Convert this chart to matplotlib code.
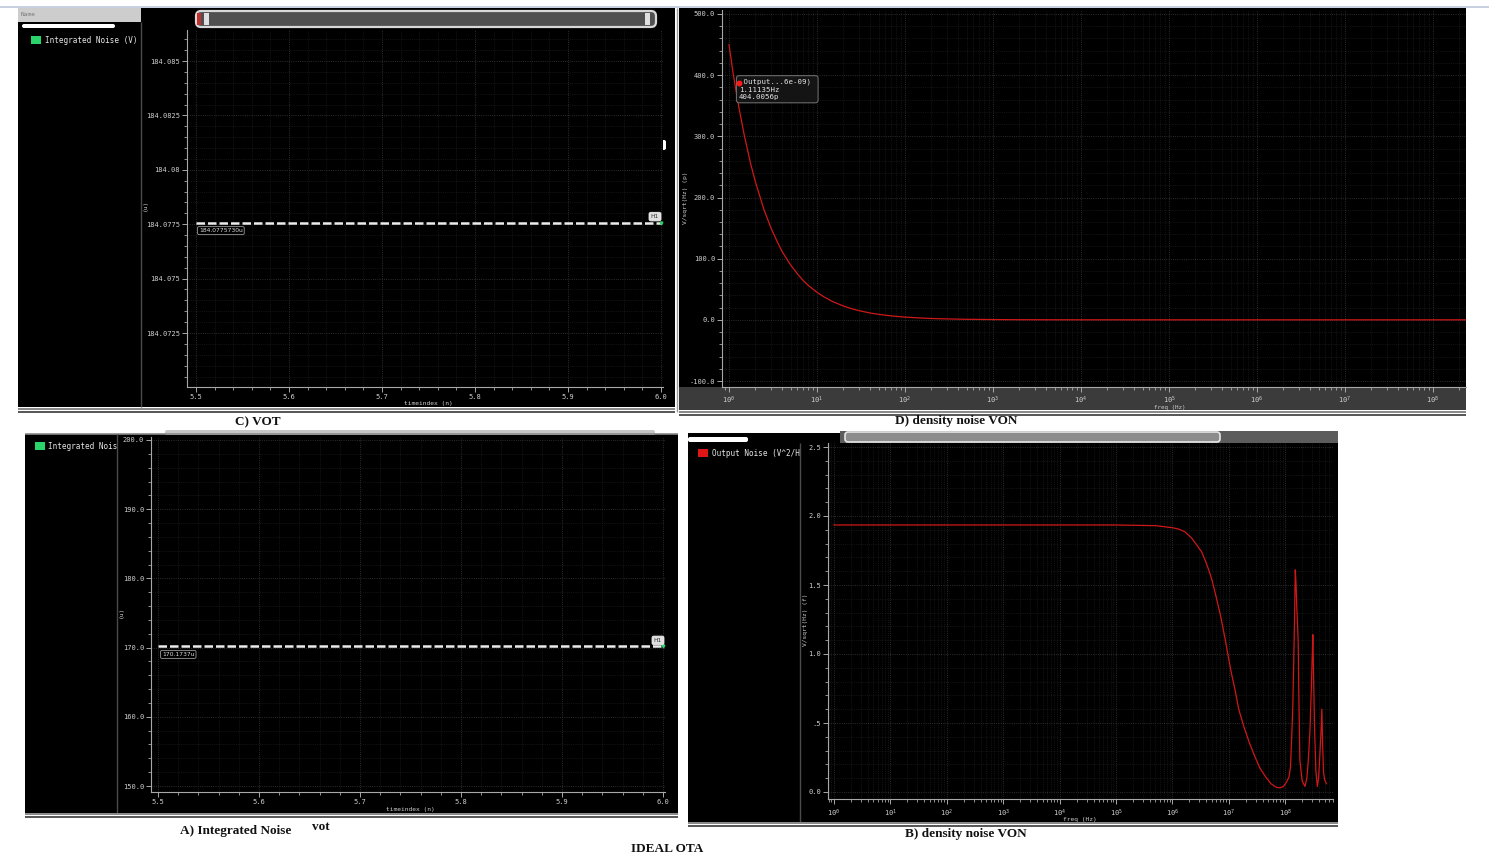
import numpy as np
import matplotlib
matplotlib.use('Agg')
import matplotlib.pyplot as plt
from matplotlib.patches import Rectangle, FancyBboxPatch
from matplotlib.ticker import AutoMinorLocator, LogLocator, NullFormatter
from matplotlib.transforms import offset_copy

# ---- data ----
# C) VOT : integrated noise marker (u) vs timeindex (n)
vot_time_ns = [5.5, 5.6, 5.7, 5.8, 5.9, 6.0]
vot_u = [184.077573, 184.077573, 184.077573, 184.077573, 184.077573, 184.077573]
vot_yticks = [184.0725, 184.075, 184.0775, 184.08, 184.0825, 184.085]

# A) Integrated Noise (u) vs timeindex (n)
intn_time_ns = [5.5, 5.6, 5.7, 5.8, 5.9, 6.0]
intn_u = [170.1737, 170.1737, 170.1737, 170.1737, 170.1737, 170.1737]
intn_yticks = [150, 160, 170, 180, 190, 200]

time_ticks = [5.5, 5.6, 5.7, 5.8, 5.9, 6.0]

# D) density noise VON, V/sqrt(Hz) (p)
d_freq = [1.0, 1.11135, 1.2, 1.3, 1.5, 1.75, 2.0, 2.5, 3.0, 3.5, 4.0, 5.0, 6.0, 7.0, 8.0,
          10, 12, 15, 20, 25, 30, 40, 50, 70, 100, 150, 200, 300, 500, 1e3, 2e3, 5e3,
          1e4, 1e5, 1e6, 1e7, 1e8, 2.37e8]
d_val = [450, 404.0056, 375, 346, 300, 257, 225, 180, 150, 129, 112, 90, 75, 64, 56,
         45, 37.5, 30, 22.5, 18, 15, 11.2, 9, 6.4, 4.5, 3.0, 2.2, 1.5, 0.9, 0.45, 0.2, 0.1,
         0.05, 0, 0, 0, 0, 0]
d_yticks = [-100, 0, 100, 200, 300, 400, 500]

# B) density noise VON, V/sqrt(Hz) (f)
b_freq = [1, 10, 100, 1e3, 1e4, 1e5, 5.1e5, 1.0e6, 1.3e6, 1.66e6, 2.2e6, 2.7e6, 3.3e6,
          3.8e6, 4.4e6, 5.0e6, 6.0e6, 7.2e6, 8.5e6, 9.8e6, 1.1e7, 1.29e7, 1.5e7, 1.86e7,
          2.3e7, 2.9e7, 3.6e7, 4.5e7, 5.6e7, 6.9e7, 8.0e7, 9.3e7, 1.05e8, 1.17e8, 1.24e8,
          1.29e8, 1.36e8, 1.41e8, 1.47e8, 1.51e8, 1.56e8, 1.6e8, 1.66e8, 1.70e8, 1.76e8,
          1.82e8, 2.0e8, 2.24e8, 2.42e8, 2.57e8, 2.75e8, 2.88e8, 3.0e8, 3.09e8, 3.2e8,
          3.31e8, 3.5e8, 3.72e8, 3.9e8, 4.07e8, 4.3e8, 4.47e8, 4.6e8, 4.79e8, 5.0e8, 5.37e8]
b_val = [1.935, 1.935, 1.935, 1.935, 1.935, 1.935, 1.93, 1.915, 1.905, 1.886, 1.84, 1.79, 1.74,
         1.68, 1.61, 1.54, 1.41, 1.27, 1.12, 0.98, 0.87, 0.74, 0.60, 0.47,
         0.36, 0.256, 0.17, 0.11, 0.06, 0.035, 0.03, 0.04, 0.07, 0.11, 0.18,
         0.35, 0.6, 0.9, 1.3, 1.61, 1.5, 1.35, 1.2, 1.08, 0.6,
         0.23, 0.08, 0.04, 0.1, 0.23, 0.45, 0.7, 0.95, 1.14, 0.8,
         0.47, 0.15, 0.04, 0.1, 0.23, 0.42, 0.60, 0.35, 0.14, 0.09, 0.06]
b_yticks = [0.0, 0.5, 1.0, 1.5, 2.0, 2.5]
b_ylabels = ['0.0', '.5', '1.0', '1.5', '2.0', '2.5']

# ---- layout helpers (pixel coordinates of the 1489x859 screenshot) ----
W, H = 1489, 859
plt.rcParams['font.family'] = 'DejaVu Sans Mono'
plt.rcParams['mathtext.fontset'] = 'dejavusans'

fig = plt.figure(figsize=(W / 100, H / 100), dpi=100, facecolor='white')

bg = fig.add_axes([0, 0, 1, 1], zorder=0)
bg.set_xlim(0, W)
bg.set_ylim(H, 0)
bg.axis('off')


def box(x0, y0, x1, y1):
    return [x0 / W, 1 - y1 / H, (x1 - x0) / W, (y1 - y0) / H]


def rect(x0, y0, x1, y1, color, **kw):
    bg.add_patch(Rectangle((x0, y0), x1 - x0, y1 - y0, facecolor=color, edgecolor='none', **kw))


def hline(y, x0, x1, color, lw=1.0):
    bg.plot([x0, x1], [y, y], color=color, lw=lw, solid_capstyle='butt')


def vline(x, y0, y1, color, lw=1.0):
    bg.plot([x, x], [y0, y1], color=color, lw=lw, solid_capstyle='butt')


def rbar(x0, y0, x1, y1, fc, ec='none', lw=0.0, r=3):
    bg.add_patch(FancyBboxPatch((x0, y0), x1 - x0, y1 - y0, boxstyle='round,pad=0,rounding_size=%d' % r,
                                facecolor=fc, edgecolor=ec, lw=lw, mutation_aspect=1))


def style(ax):
    ax.set_facecolor('black')
    for s in ['top', 'right']:
        ax.spines[s].set_visible(False)
    for s in ['left', 'bottom']:
        ax.spines[s].set_color('#a8a8a8')
        ax.spines[s].set_linewidth(0.8)
    ax.tick_params(which='both', colors='#a8a8a8', labelcolor='#cfcfcf', labelsize=5, direction='out')
    ax.tick_params(which='major', length=3.5, width=0.7, pad=1.5)
    ax.tick_params(which='minor', length=2, width=0.6)
    ax.grid(which='major', color='#3c3c3c', ls=':', lw=0.6)
    ax.grid(which='minor', color='#242424', ls=':', lw=0.5)
    ax.set_axisbelow(True)


def label_at(ax, which, text, px, py, x0, y0, x1, y1, size=4.5):
    lx = (px - x0) / (x1 - x0)
    ly = (y1 - py) / (y1 - y0)
    if which == 'x':
        ax.set_xlabel(text, fontsize=size, color='#cfcfcf')
        ax.xaxis.set_label_coords(lx, ly)
        ax.xaxis.label.set_va('center')
    else:
        ax.set_ylabel(text, fontsize=size, color='#cfcfcf', rotation=90)
        ax.yaxis.set_label_coords(lx, ly)
        ax.yaxis.label.set_va('center')


# ---- window chrome ----
hline(7, 0, W, '#bcc8da', lw=1.2)

# panel C frame
rect(18, 8, 675, 407, 'black')
rect(18, 8, 141, 22, '#cdcdcd')
bg.text(21, 15, 'Name', fontsize=4.5, color='#7a7a7a', va='center')
rbar(22, 24, 115, 28, 'white', r=2)
vline(141, 22, 407, '#4a4a4a')
rect(31, 36, 41, 44, '#2bd46b')
bg.text(45, 40.5, 'Integrated Noise (V)', fontsize=5.5, color='#e6e6e6', va='center')
rbar(196, 11, 656, 27, '#505050', ec='#d8d8d8', lw=1.6, r=5)
rect(197, 13, 201, 25, '#c03030')
rect(204, 13, 209, 25, '#e0e0e0')
rect(645, 13, 650, 25, '#e0e0e0')
rbar(661, 140, 666, 150, 'white', r=2)
hline(408.5, 18, 675, '#888888', lw=1.4)
hline(411.5, 18, 675, '#555555', lw=1.4)
vline(677, 8, 412, '#9a9a9a', lw=1.0)

# panel D frame
rect(679, 8, 1466, 387, 'black')
rect(679, 387, 1466, 410, '#3b3b3b')
hline(412, 679, 1466, '#888888', lw=1.4)
hline(415, 679, 1466, '#555555', lw=1.4)
hline(88, 744, 821, '#cfcfcf', lw=0.6)

# panel A frame
rect(25, 434, 678, 813, 'black')
hline(433.5, 25, 678, '#8a8a8a', lw=1.2)
rbar(165, 430, 655, 435, '#c6c6c6', r=2)
vline(117, 434, 813, '#4a4a4a')
rect(35, 442, 45, 450, '#2bd46b')
bg.text(48, 446.5, 'Integrated Nois', fontsize=5.5, color='#e6e6e6', va='center')
hline(814, 25, 678, '#888888', lw=1.4)
hline(817, 25, 678, '#555555', lw=1.4)

# panel B frame
rect(688, 433, 1338, 822, 'black')
rect(840, 431, 1338, 443, '#5c5c5c')
rbar(845, 432, 1220, 442, '#8c8c8c', ec='#e6e6e6', lw=1.2, r=3)
rbar(688, 437, 748, 442, 'white', r=2)
vline(800, 443, 822, '#4a4a4a')
rect(698, 449, 708, 457, '#e01515')
bg.text(712, 453.5, 'Output Noise (V^2/H', fontsize=5.5, color='#e6e6e6', va='center')
hline(823, 688, 1338, '#888888', lw=1.4)
hline(826, 688, 1338, '#555555', lw=1.4)

# ---- C) VOT ----
C = (187, 30, 663, 387)
axC = fig.add_axes(box(*C), zorder=2)
style(axC)
axC.plot(vot_time_ns, vot_u, color='#ececec', lw=1.8, dashes=(3.4, 1.2))
axC.plot(vot_time_ns[-1:], vot_u[-1:], ls='none', marker='v', ms=2, color='#2bd46b')
axC.set_xlim(5.5 - 9 / 930, 6.0 + 2 / 930)
axC.set_ylim(184.0725 - 54 / 21760, 184.085 + 31 / 21760)
axC.set_xticks(time_ticks)
axC.set_xticklabels(['%.1f' % t for t in time_ticks])
axC.set_yticks(vot_yticks)
axC.set_yticklabels([('%.4f' % v).rstrip('0') for v in vot_yticks])
axC.xaxis.set_minor_locator(AutoMinorLocator(5))
axC.yaxis.set_minor_locator(AutoMinorLocator(5))
axC.annotate('%.7fu' % vot_u[0], xy=(vot_time_ns[0], vot_u[0]), xytext=(3, -8), textcoords='offset pixels',
             fontsize=4.3, color='#dcdcdc', va='center', ha='left', fontfamily='DejaVu Sans',
             bbox=dict(boxstyle='round,pad=0.25', fc='black', ec='#9a9a9a', lw=0.6))
axC.annotate('H1', xy=(vot_time_ns[-1], vot_u[-1]), xytext=(-6, 6), textcoords='offset pixels',
             fontsize=4.3, color='#333333', va='center', ha='center', fontfamily='DejaVu Sans',
             bbox=dict(boxstyle='round,pad=0.3', fc='#dedede', ec='#f0f0f0', lw=0.6))
label_at(axC, 'x', 'timeindex (n)', 428, 404, *C)
label_at(axC, 'y', '(u)', 145, 205, *C)

# ---- D) density noise VON (top right) ----
D = (722, 10, 1466, 387)
axD = fig.add_axes(box(*D), zorder=2)
style(axD)
axD.set_xscale('log')
axD.plot(d_freq, d_val, color='#d01818', lw=0.9)
axD.set_xlim(10 ** (-7 / 88), 10 ** (737 / 88))
axD.set_ylim(-100 - 6 / 0.612, 500 + 4 / 0.612)
axD.set_yticks(d_yticks)
axD.set_yticklabels(['%.1f' % v for v in d_yticks])
axD.yaxis.set_minor_locator(AutoMinorLocator(5))
axD.xaxis.set_major_locator(LogLocator(base=10, numticks=20))
axD.xaxis.set_minor_locator(LogLocator(base=10, subs=np.arange(2, 10), numticks=200))
axD.xaxis.set_minor_formatter(NullFormatter())
axD.tick_params(axis='x', which='major', pad=2)
axD.annotate(' Output...6e-09) \n1.11135Hz\n404.0056p', xy=(d_freq[1], d_val[1]), xytext=(6, -6),
             textcoords='offset pixels', fontsize=5.3, color='#e6e6e6', va='top', ha='left',
             linespacing=1.3,
             bbox=dict(boxstyle='round,pad=0.35', fc='#141414', ec='#6a6a6a', lw=0.8))
dot_tr = offset_copy(axD.transData, fig=fig, x=6, y=-10, units='dots')
axD.plot(d_freq[1:2], d_val[1:2], ls='none', marker='o', ms=3.2, color='#ff1a1a', transform=dot_tr, zorder=5)
label_at(axD, 'x', 'freq (Hz)', 1170, 408, *D, size=4.2)
label_at(axD, 'y', 'V/sqrt(Hz) (p)', 686, 198, *D)

# ---- A) Integrated Noise ----
A = (151, 437, 665, 792)
axA = fig.add_axes(box(*A), zorder=2)
style(axA)
axA.plot(intn_time_ns, intn_u, color='#ececec', lw=1.8, dashes=(3.4, 1.2))
axA.plot(intn_time_ns[-1:], intn_u[-1:], ls='none', marker='v', ms=2, color='#2bd46b')
axA.set_xlim(5.5 - 7 / 1010, 6.0 + 2 / 1010)
axA.set_ylim(150 - 6 / 6.92, 200 + 3 / 6.92)
axA.set_xticks(time_ticks)
axA.set_xticklabels(['%.1f' % t for t in time_ticks])
axA.set_yticks(intn_yticks)
axA.set_yticklabels(['%.1f' % v for v in intn_yticks])
axA.xaxis.set_minor_locator(AutoMinorLocator(5))
axA.yaxis.set_minor_locator(AutoMinorLocator(5))
axA.annotate('%.4fu' % intn_u[0], xy=(intn_time_ns[0], intn_u[0]), xytext=(4, -8), textcoords='offset pixels',
             fontsize=4.3, color='#dcdcdc', va='center', ha='left', fontfamily='DejaVu Sans',
             bbox=dict(boxstyle='round,pad=0.25', fc='black', ec='#9a9a9a', lw=0.6))
axA.annotate('H1', xy=(intn_time_ns[-1], intn_u[-1]), xytext=(-5, 6), textcoords='offset pixels',
             fontsize=4.3, color='#333333', va='center', ha='center', fontfamily='DejaVu Sans',
             bbox=dict(boxstyle='round,pad=0.3', fc='#dedede', ec='#f0f0f0', lw=0.6))
label_at(axA, 'x', 'timeindex (n)', 410, 809, *A)
label_at(axA, 'y', '(u)', 121, 612, *A)

# ---- B) density noise VON (bottom right) ----
B = (828, 443, 1333, 799)
axB = fig.add_axes(box(*B), zorder=2)
style(axB)
axB.set_xscale('log')
axB.plot(b_freq, b_val, color='#d01818', lw=0.9)
axB.set_xlim(10 ** (-6 / 56.4), 10 ** (499 / 56.4))
axB.set_ylim(0 - 7 / 138, 2.5 + 4 / 138)
axB.set_yticks(b_yticks)
axB.set_yticklabels(b_ylabels)
axB.yaxis.set_minor_locator(AutoMinorLocator(5))
axB.xaxis.set_major_locator(LogLocator(base=10, numticks=20))
axB.xaxis.set_minor_locator(LogLocator(base=10, subs=np.arange(2, 10), numticks=200))
axB.xaxis.set_minor_formatter(NullFormatter())
axB.tick_params(axis='x', which='major', pad=3)
label_at(axB, 'x', 'freq (Hz)', 1080, 819, *B)
label_at(axB, 'y', 'V/sqrt(Hz) (f)', 805, 620, *B)

# ---- captions ----
cap = dict(fontfamily='Liberation Serif', fontweight='bold', fontsize=9.5, color='#111111',
           ha='center', va='center')
bg.text(258, 422, 'C) VOT', **cap)
bg.text(956, 421, 'D) density noise VON', **cap)
bg.text(236, 831, 'A) Integrated Noise', **cap)
bg.text(321, 827, 'vot', **cap)
bg.text(966, 834, 'B) density noise VON', **cap)
bg.text(667, 849, 'IDEAL OTA', **cap)

fig.savefig('out.png', dpi=100, facecolor='white')
